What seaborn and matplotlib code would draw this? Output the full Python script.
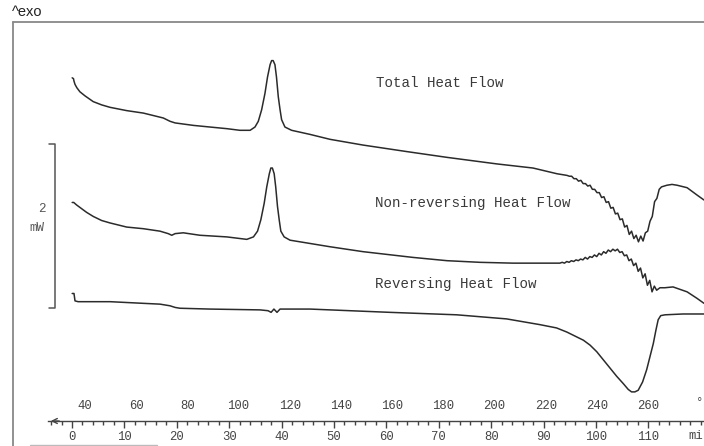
import matplotlib
matplotlib.use("Agg")
import matplotlib.pyplot as plt
import seaborn as sns
import pandas as pd
from matplotlib.ticker import MultipleLocator
from matplotlib.lines import Line2D

# values: temperature (°C) vs heat flow (mW, traces offset)
total_temp = [35.0, 35.5, 35.7, 36.1, 36.8, 38.0, 40.0, 43.2, 46.5, 49.8, 56.3, 62.8, 68.0, 70.6,
              73.2, 75.2, 82.3, 88.8, 95.4, 100.5, 104.5, 106.4, 107.7, 109.0, 110.3, 111.3,
              112.3, 112.9, 113.5, 114.2, 114.8, 115.5, 116.2, 116.8, 118.1, 120.7, 127.9, 135.7,
              148.6, 165.8, 181.4, 200.9, 215.0, 224.4,
              228.3, 229.2, 230.1, 231.0, 231.9, 232.8, 233.7, 234.6, 235.5, 236.4, 237.3, 238.2,
              239.1, 240.0, 240.9, 241.8, 242.7, 243.6, 244.5, 245.4, 246.3, 247.2, 248.1, 249.0,
              249.9, 250.8, 251.7, 252.6, 253.5, 254.4, 255.3, 256.2, 257.1, 258.0, 258.9, 259.8,
              260.7, 261.6, 262.5, 263.4, 264.3, 265.2, 267.3, 269.3, 271.3, 275.2, 279.1, 281.8]
total_hf = [4.49, 4.48, 4.45, 4.41, 4.37, 4.32, 4.27, 4.20, 4.16, 4.13, 4.09, 4.06, 4.02, 4.00,
            3.96, 3.94, 3.91, 3.89, 3.87, 3.85, 3.85, 3.89, 3.96, 4.10, 4.30, 4.50,
            4.65, 4.70, 4.70, 4.65, 4.50, 4.26, 4.10, 3.98, 3.89, 3.85, 3.80, 3.74,
            3.67, 3.59, 3.52, 3.44, 3.39, 3.32,
            3.30, 3.29, 3.29, 3.26, 3.26, 3.23, 3.24, 3.20, 3.20, 3.17, 3.18, 3.13,
            3.13, 3.09, 3.09, 3.03, 3.04, 2.97, 2.98, 2.90, 2.91, 2.83, 2.84, 2.76,
            2.77, 2.67, 2.69, 2.58, 2.62, 2.53, 2.57, 2.49, 2.56, 2.50, 2.60, 2.62,
            2.74, 2.80, 2.98, 3.02, 3.13, 3.16, 3.18, 3.19, 3.18, 3.15, 3.06, 3.00]

nonrev_temp = [35.0, 35.6, 36.7, 38.0, 40.6, 43.2, 46.5, 49.8, 56.3, 62.8, 69.3, 72.5, 73.9,
               75.2, 78.4, 84.9, 95.4, 103.2, 105.8, 107.4, 108.7, 110.0, 111.0, 112.0, 112.6,
               113.2, 113.9, 114.5, 115.2, 115.9, 116.5, 117.8, 120.1, 124.0, 135.7, 148.6,
               168.1, 181.4, 194.3, 207.2, 220.5,
               225.5, 226.4, 227.3, 228.2, 229.1, 230.0, 230.9, 231.8, 232.7, 233.6, 234.5, 235.4,
               236.3, 237.2, 238.1, 239.0, 239.9, 240.8, 241.7, 242.6, 243.5, 244.4, 245.3, 246.2,
               247.1, 248.0, 248.9, 249.8, 250.7, 251.6, 252.5, 253.4, 254.3, 255.2, 256.1, 257.0,
               257.9, 258.8, 259.7, 260.6, 261.5, 262.4, 263.3, 264.6, 266.5, 269.7, 275.2, 279.1,
               281.8]
nonrev_hf = [2.97, 2.97, 2.94, 2.91, 2.85, 2.80, 2.75, 2.72, 2.67, 2.65, 2.62, 2.59, 2.57,
             2.59, 2.60, 2.57, 2.55, 2.52, 2.55, 2.62, 2.76, 2.96, 3.16, 3.32, 3.39,
             3.39, 3.32, 3.16, 2.92, 2.75, 2.62, 2.55, 2.51, 2.49, 2.43, 2.37,
             2.30, 2.26, 2.24, 2.23, 2.23,
             2.23, 2.24, 2.23, 2.25, 2.24, 2.26, 2.25, 2.27, 2.26, 2.28, 2.27, 2.30,
             2.28, 2.31, 2.30, 2.33, 2.31, 2.35, 2.33, 2.37, 2.35, 2.39, 2.37, 2.40,
             2.38, 2.40, 2.36, 2.37, 2.32, 2.33, 2.26, 2.28, 2.20, 2.23, 2.13, 2.17,
             2.05, 2.10, 1.96, 2.02, 1.88, 1.95, 1.90, 1.93, 1.93, 1.94, 1.88, 1.80,
             1.74]

rev_temp = [35.0, 35.7, 36.1, 37.3, 49.8, 62.7, 69.3, 73.2, 75.2, 77.1, 88.8, 108.4, 111.5,
            112.7, 113.8, 115.0, 116.2, 127.9, 159.1, 185.2, 204.7, 217.7, 224.2, 228.2, 232.1,
            234.7, 237.3, 239.9, 242.5, 245.1, 247.7, 250.3, 252.2, 253.5, 254.8, 256.1, 257.8,
            259.4, 260.7, 262.0, 263.0, 263.9, 264.9, 266.6, 273.6, 281.8]
rev_hf = [1.86, 1.86, 1.77, 1.76, 1.76, 1.74, 1.73, 1.71, 1.69, 1.68, 1.67, 1.66, 1.65,
          1.63, 1.67, 1.63, 1.67, 1.67, 1.63, 1.60, 1.55, 1.48, 1.44, 1.39, 1.33,
          1.29, 1.23, 1.15, 1.05, 0.95, 0.85, 0.76, 0.69, 0.66, 0.66, 0.68, 0.78,
          0.93, 1.09, 1.25, 1.41, 1.54, 1.59, 1.60, 1.61, 1.61]

curve_names = ["Total Heat Flow", "Non-reversing Heat Flow", "Reversing Heat Flow"]
label_pos = [(153.7, 4.43), (153.3, 2.96), (153.3, 1.98)]

temp_ticks = list(range(40, 261, 20))
time_ticks = list(range(0, 111, 10))
scale_mw = 2.0
scale_top = 3.68

sns.set_theme(style="white")
plt.rcParams["font.family"] = ["Liberation Mono", "DejaVu Sans"]

fig = plt.figure(figsize=(7.04, 4.46), dpi=100)
W, H = 704, 446
ax = fig.add_axes([48 / W, 25 / H, 656 / W, 421 / H])
ink = "#2b2b2b"

for xs, ys in [(total_temp, total_hf), (nonrev_temp, nonrev_hf), (rev_temp, rev_hf)]:
    assert len(xs) == len(ys)
    df = pd.DataFrame({"T": xs, "HF": ys})
    sns.lineplot(data=df, x="T", y="HF", sort=False, estimator=None, color=ink, lw=1.1, ax=ax)

for name, (lx, ly) in zip(curve_names, label_pos):
    ax.text(lx, ly, name, fontsize=10.2, color="#3a3a3a", va="center", ha="left")

ax.set_xlim(25.55, 281.8)
ax.set_ylim(0.305, 5.439)
ax.set_xlabel("")
ax.set_ylabel("")
ax.set_yticks([])
for s in ["top", "left", "right"]:
    ax.spines[s].set_visible(False)
ax.spines["bottom"].set_color("#444")
ax.spines["bottom"].set_linewidth(1.0)

# temperature scale, labels above the line
ax.set_xticks(temp_ticks)
ax.xaxis.set_minor_locator(MultipleLocator(10))
ax.tick_params(axis="x", which="major", direction="in", length=6, width=1, color="#444",
               pad=-15, labelsize=8.8, labelcolor="#444")
ax.tick_params(axis="x", which="minor", direction="in", length=4, width=1, color="#444")

# time scale, below the line
T2t = lambda T: (T - 34.92) / 2.047
t2T = lambda t: 34.92 + 2.047 * t
secax = ax.secondary_xaxis("bottom", functions=(T2t, t2T))
secax.set_xticks(time_ticks)
secax.xaxis.set_minor_locator(MultipleLocator(2))
secax.spines["bottom"].set_visible(False)
secax.tick_params(axis="x", which="major", direction="out", length=5, width=1, color="#444",
                  pad=2, labelsize=8.8, labelcolor="#444")
secax.tick_params(axis="x", which="minor", direction="out", length=3, width=1, color="#444")

# arrow head at left end of the axis
ax.annotate("", xy=(0, 0), xycoords="axes fraction", xytext=(14 / 656, 0),
            textcoords="axes fraction",
            arrowprops=dict(arrowstyle="->", color="#444", lw=1.0, mutation_scale=9))

# 2 mW scale bar
sx, tx = 28.3, 26.0
ax.plot([tx, sx, sx, tx], [scale_top, scale_top, scale_top - scale_mw, scale_top - scale_mw],
        color="#555", lw=1.1, clip_on=False)
fig.text(42 / W, 1 - 209 / H, f"{scale_mw:g}", fontsize=9, color="#555", ha="center", va="center")
fig.text(37 / W, 1 - 228 / H, "mW", fontsize=9, color="#555", ha="center", va="center")

# frame and header
fig.add_artist(Line2D([12.5 / W, 12.5 / W], [0, 1 - 22 / H], color="#888", lw=1.3))
fig.add_artist(Line2D([12.5 / W, 1], [1 - 22 / H, 1 - 22 / H], color="#888", lw=1.3))
fig.add_artist(Line2D([30 / W, 157 / W], [0.7 / H, 0.7 / H], color="#bbb", lw=1.0))
fig.text(12 / W, 1 - 12 / H, "^exo", fontsize=10.5, family="Liberation Sans", color="#222",
         ha="left", va="center")
# unit labels, cut short at the right edge as in the original
fig.text(696 / W, 1 - 403 / H, "°", fontsize=8.8, color="#444", ha="left", va="center")
fig.text(688 / W, 1 - 436 / H, "mi", fontsize=8.8, color="#444", ha="left", va="center")

fig.savefig("out.png", dpi=100)
